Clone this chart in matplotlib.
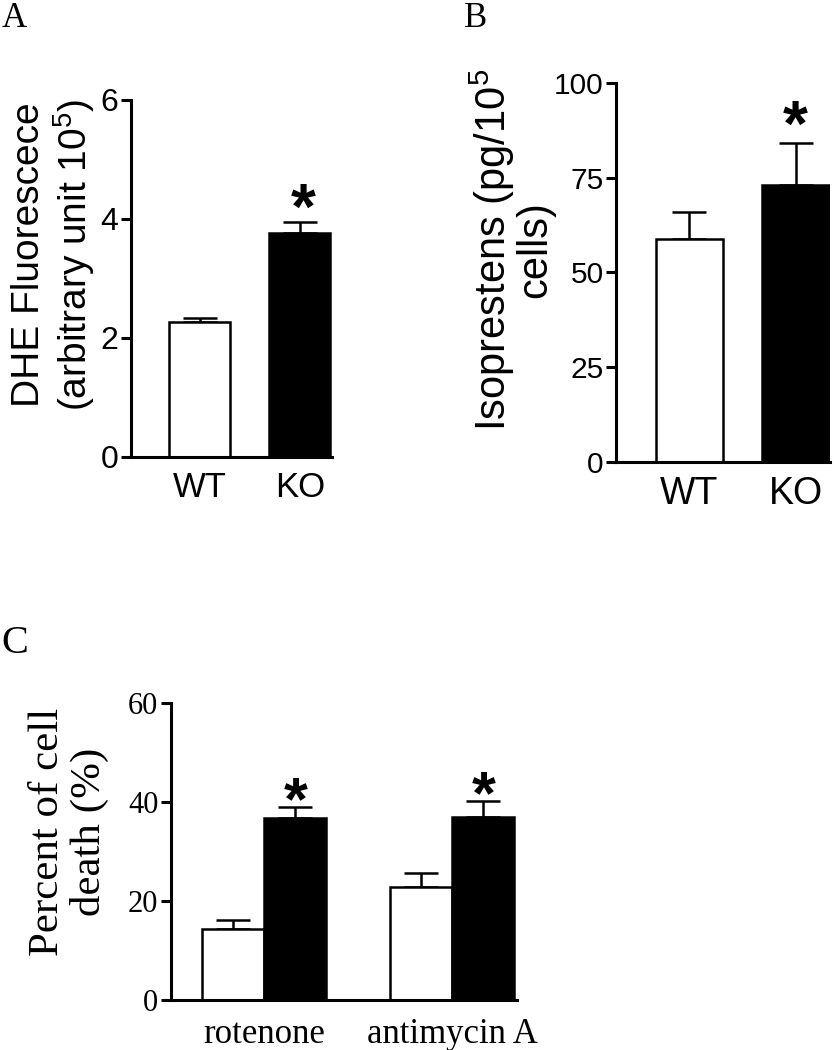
import matplotlib
matplotlib.use("Agg")
import matplotlib.pyplot as plt
import numpy as np

# panel A: DHE fluorescence
groups_a = ["WT", "KO"]
mean_a = [2.27, 3.76]
sem_a = [0.06, 0.19]

# panel B: isoprostanes
groups_b = ["WT", "KO"]
mean_b = [58.8, 73.1]
sem_b = [7.2, 11.1]

# panel C: cell death, WT (white) and KO (black) per treatment
treat_c = ["rotenone", "antimycin A"]
wt_c = [14.3, 22.8]
wt_c_sem = [1.9, 2.9]
ko_c = [36.8, 37.0]
ko_c_sem = [2.2, 3.2]

plt.rcParams['mathtext.fontset'] = 'custom'
plt.rcParams['mathtext.rm'] = 'Liberation Sans'
plt.rcParams['mathtext.it'] = 'Liberation Sans:italic'

SANS = 'Liberation Sans'
SERIF = 'Liberation Serif'
LW = 2.2

fig = plt.figure(figsize=(8.34, 10.5), dpi=100)


def style_axes(ax, family, ysize, xsize, xpad=10):
    for s in ['top', 'right']:
        ax.spines[s].set_visible(False)
    for s in ['left', 'bottom']:
        ax.spines[s].set_linewidth(LW)
    ax.tick_params(axis='y', length=7, width=LW, direction='out', pad=2)
    ax.tick_params(axis='x', length=0, pad=xpad)
    for lab in ax.get_yticklabels():
        lab.set_family(family)
        lab.set_fontsize(ysize)
    for lab in ax.get_xticklabels():
        lab.set_family(family)
        lab.set_fontsize(xsize)


def bars(ax, x, h, err, color, width):
    ax.bar(x, h, width=width, color=color, edgecolor='black', linewidth=1.8, zorder=2)
    ax.errorbar(x, h, yerr=[np.zeros(len(h)), err], fmt='none', ecolor='black',
                elinewidth=1.8, capsize=12, capthick=1.8, zorder=1)


def star(ax, x, y, dy, size):
    ax.annotate('*', xy=(x, y), xytext=(0, dy), textcoords='offset points',
                ha='center', va='baseline', fontsize=size, fontweight='bold',
                family=SANS, annotation_clip=False)


# ---------------- A ----------------
axA = fig.add_axes([0.157, 0.5648, 0.241, 0.340])
xa = np.arange(len(groups_a))
bars(axA, xa[:1], mean_a[:1], sem_a[:1], 'white', 0.61)
bars(axA, xa[1:], mean_a[1:], sem_a[1:], 'black', 0.61)
axA.set_xlim(-0.69, 1.32)
axA.set_ylim(0, 6)
axA.set_yticks([0, 2, 4, 6])
axA.set_xticks(xa)
axA.set_xticklabels(groups_a)
style_axes(axA, SANS, 23, 25)
star(axA, xa[1] + 0.03, mean_a[1] + sem_a[1], -5, 46)
fig.text(0.065, 0.757, "DHE Fluorescece\n(arbitrary unit 10$^5$)", rotation=90,
         ha='center', va='center', multialignment='center', family=SANS,
         fontsize=28, linespacing=1.12)

# ---------------- B ----------------
axB = fig.add_axes([0.7386, 0.56, 0.2566, 0.361])
xb = np.arange(len(groups_b))
bars(axB, xb[:1], mean_b[:1], sem_b[:1], 'white', 0.632)
bars(axB, xb[1:], mean_b[1:], sem_b[1:], 'black', 0.632)
axB.set_xlim(-0.693, 1.325)
axB.set_ylim(0, 100)
axB.set_yticks([0, 25, 50, 75, 100])
axB.set_xticks(xb)
axB.set_xticklabels(groups_b)
style_axes(axB, SANS, 21.5, 27)
star(axB, xb[1], mean_b[1] + sem_b[1], -2, 46)
fig.text(0.613, 0.762, "Isoprestens (pg/10$^5$\ncells)", rotation=90,
         ha='center', va='center', multialignment='center', family=SANS,
         fontsize=30, linespacing=0.95)

# ---------------- C ----------------
axC = fig.add_axes([0.205, 0.0476, 0.415, 0.283])
xc = np.arange(len(treat_c))
w = 0.33
bars(axC, xc - w / 2, wt_c, wt_c_sem, 'white', w)
bars(axC, xc + w / 2, ko_c, ko_c_sem, 'black', w)
axC.set_xlim(-0.497, 1.345)
axC.set_ylim(0, 60)
axC.set_yticks([0, 20, 40, 60])
axC.set_xticks(xc)
axC.set_xticklabels(treat_c)
style_axes(axC, SERIF, 22, 25, xpad=13)
for i in range(len(treat_c)):
    star(axC, xc[i] + w / 2, ko_c[i] + ko_c_sem[i], -9, 44)
fig.text(0.083, 0.2076, "Percent of cell\ndeath (%)", rotation=90,
         ha='center', va='center', multialignment='center', family=SERIF,
         fontsize=31, linespacing=1.1)

# panel letters
fig.text(0.002, 0.998, "A", ha='left', va='top', family=SERIF, fontsize=25)
fig.text(0.556, 0.998, "B", ha='left', va='top', family=SERIF, fontsize=25)
fig.text(0.002, 0.405, "C", ha='left', va='top', family=SERIF, fontsize=29)

fig.savefig("out.png", dpi=100)
